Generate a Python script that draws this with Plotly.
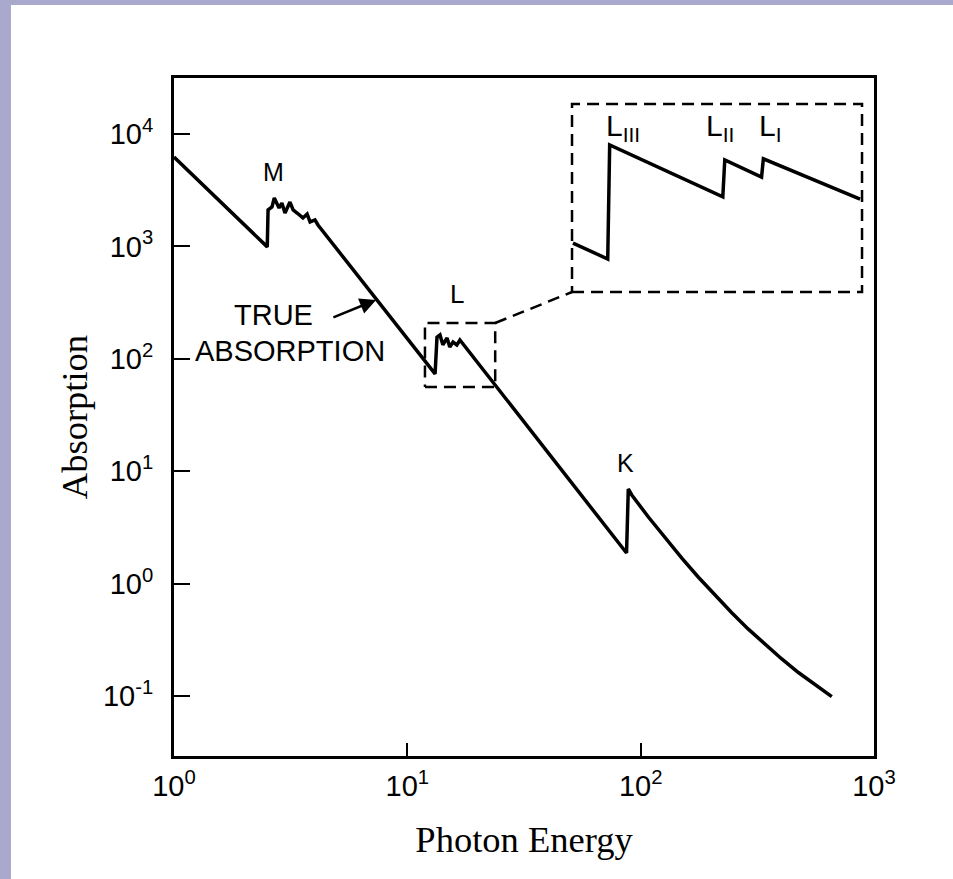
import numpy as np
import plotly.graph_objects as go

# absorption curve (photon energy, absorption)
energy = [1.0, 2.51, 2.53, 2.63, 2.69, 2.76, 2.82, 2.90, 2.99, 3.14, 3.24, 3.37, 3.57, 3.72, 3.83, 4.02, 4.14,
          13.15, 13.4, 13.8, 14.2, 14.8, 15.2, 15.7, 16.3, 16.8,
          87.0, 88.5, 91.6, 107.9, 127.2, 150.1, 176.8, 208.4, 245.7, 289.4, 341.4, 402.5, 474.2, 559.2, 659.3]
absorption = [6240, 990, 2110, 2240, 2700, 2430, 2200, 2430, 1980, 2480, 2110, 1980, 1790, 1940, 1650, 1720, 1550,
              73.3, 156, 163, 133, 153, 127, 141, 133, 147,
              1.87, 6.95, 6.14, 3.91, 2.545, 1.683, 1.138, 0.784, 0.550, 0.393, 0.287, 0.2134, 0.1618, 0.1253, 0.0986]

# region around the L edges that is blown up in the inset
zoom_energy = [11.9, 23.8]
zoom_absorption = [56, 208]

# magnified L edges (inset)
inset_energy = [11.94, 12.97, 13.03, 17.06, 17.14, 18.71, 18.79, 23.66]
inset_absorption = [78.9, 70.6, 156.3, 108.9, 140.9, 125.0, 141.9, 107.2]

edge_labels = ["M", "L", "K"]
edge_label_energy = [2.68, 16.3, 86.5]
edge_label_absorption = [4590, 378, 11.8]

inset_labels = ["L<sub>III</sub>", "L<sub>II</sub>", "L<sub>I</sub>"]
inset_label_energy = [13.45, 16.95, 19.09]
inset_label_absorption = [177, 177, 177]

x_ticks = [1, 10, 100, 1000]
x_ticktext = ["10<sup>0</sup>", "10<sup>1</sup>", "10<sup>2</sup>", "10<sup>3</sup>"]
y_ticks = [0.1, 1, 10, 100, 1000, 10000]
y_ticktext = ["10<sup>-1</sup>", "10<sup>0</sup>", "10<sup>1</sup>", "10<sup>2</sup>", "10<sup>3</sup>", "10<sup>4</sup>"]

x_range = [0, 3]
y_range = [-1.534, 4.498]
inset_x_domain = [0.5686, 0.9829]
inset_y_domain = [0.6844, 0.9617]

SANS = "Liberation Sans, Arial, sans-serif"
SERIF = "Liberation Serif, Times New Roman, serif"
DASH = "12px,7px"

fig = go.Figure()

# main curve
fig.add_trace(go.Scatter(x=energy, y=absorption, mode="lines",
                         line=dict(color="black", width=3.5), hoverinfo="skip"))

# dashed box around the L region
bx = [zoom_energy[0], zoom_energy[1], zoom_energy[1], zoom_energy[0], zoom_energy[0]]
by = [zoom_absorption[0], zoom_absorption[0], zoom_absorption[1], zoom_absorption[1], zoom_absorption[0]]
fig.add_trace(go.Scatter(x=bx, y=by, mode="lines",
                         line=dict(color="black", width=2.5, dash=DASH), hoverinfo="skip"))

# connector from the small box to the inset corner (inset corner expressed on main axes)
corner_e = 10 ** (x_range[0] + inset_x_domain[0] * (x_range[1] - x_range[0]))
corner_a = 10 ** (y_range[0] + inset_y_domain[0] * (y_range[1] - y_range[0]))
fig.add_trace(go.Scatter(x=[zoom_energy[1], corner_e], y=[zoom_absorption[1], corner_a], mode="lines",
                         line=dict(color="black", width=2.5, dash=DASH), hoverinfo="skip"))

# inset curve
fig.add_trace(go.Scatter(x=inset_energy, y=inset_absorption, mode="lines", xaxis="x2", yaxis="y2",
                         line=dict(color="black", width=3.5), hoverinfo="skip"))

# edge labels
for txt, e, a in zip(edge_labels, edge_label_energy, edge_label_absorption):
    fig.add_annotation(x=np.log10(e), y=np.log10(a), text=txt, showarrow=False,
                       font=dict(family=SANS, size=26 if txt == "L" else 25, color="black"))

for txt, e, a in zip(inset_labels, inset_label_energy, inset_label_absorption):
    fig.add_annotation(x=np.log10(e), y=np.log10(a), xref="x2", yref="y2", text=txt, showarrow=False,
                       font=dict(family=SANS, size=30, color="black"))

# TRUE ABSORPTION label with its arrow
fig.add_annotation(x=np.log10(2.68), y=np.log10(245), text="TRUE", showarrow=False,
                   font=dict(family=SANS, size=29, color="black"))
fig.add_annotation(x=np.log10(3.14), y=np.log10(117), text="ABSORPTION", showarrow=False,
                   font=dict(family=SANS, size=29, color="black"))
fig.add_annotation(x=np.log10(7.35), y=np.log10(334), ax=np.log10(4.75), ay=np.log10(231),
                   axref="x", ayref="y", text="", showarrow=True,
                   arrowhead=2, arrowsize=1.3, arrowwidth=2.5, arrowcolor="black")

# slide background: blue border with a white page
fig.add_shape(type="rect", xref="paper", yref="paper", x0=-0.2329, x1=1.2, y0=-0.3, y1=1.1077,
              fillcolor="white", line=dict(width=0), layer="below")

# inset frame
fig.add_shape(type="rect", xref="x2 domain", yref="y2 domain", x0=0, x1=1, y0=0, y1=1,
              line=dict(color="black", width=2.5, dash=DASH))

fig.update_layout(
    width=953, height=879,
    margin=dict(l=174, r=79, t=78, b=123),
    paper_bgcolor="#A8A9CD",
    plot_bgcolor="white",
    showlegend=False,
    xaxis=dict(
        type="log", range=x_range,
        tickmode="array", tickvals=x_ticks, ticktext=x_ticktext,
        ticks="inside", ticklen=13, tickwidth=2, tickcolor="black",
        tickfont=dict(family=SANS, size=29, color="black"),
        ticklabelstandoff=2,
        showline=True, mirror=True, linewidth=3, linecolor="black",
        showgrid=False, zeroline=False,
        title=dict(text="Photon Energy", font=dict(family=SERIF, size=36.5, color="black"), standoff=26),
    ),
    yaxis=dict(
        type="log", range=y_range,
        tickmode="array", tickvals=y_ticks, ticktext=y_ticktext,
        ticks="inside", ticklen=16, tickwidth=2, tickcolor="black",
        tickfont=dict(family=SANS, size=29, color="black"),
        ticklabelstandoff=12,
        showline=True, mirror=True, linewidth=3, linecolor="black",
        showgrid=False, zeroline=False,
        title=dict(text="Absorption", font=dict(family=SERIF, size=36.5, color="black"), standoff=5),
    ),
    xaxis2=dict(type="log", range=[1.076, 1.376], domain=inset_x_domain, anchor="y2",
                visible=False, showgrid=False, zeroline=False),
    yaxis2=dict(type="log", range=[1.749, 2.318], domain=inset_y_domain, anchor="x2",
                visible=False, showgrid=False, zeroline=False),
)

fig.write_html("out.html", config={"displayModeBar": False},
               post_script="document.body.style.margin='0';")
